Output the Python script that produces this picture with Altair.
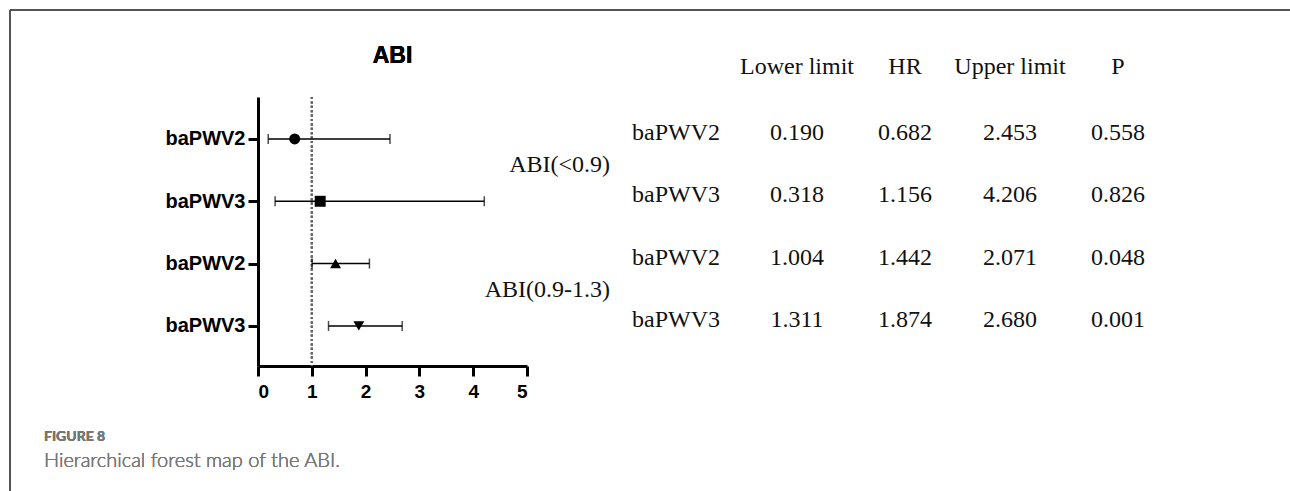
import altair as alt
import pandas as pd

# ---- data ----
row_labels = ["baPWV2", "baPWV3", "baPWV2", "baPWV3"]
groups = ["ABI(<0.9)", "ABI(0.9-1.3)"]
lower = [0.190, 0.318, 1.004, 1.311]
hr = [0.682, 1.156, 1.442, 1.874]
upper = [2.453, 4.206, 2.071, 2.680]
pvals = [0.558, 0.826, 0.048, 0.001]
shapes = ["circle", "square", "triangle-up", "triangle-down"]
headers = ["Lower limit", "HR", "Upper limit", "P"]
xticks = [0, 1, 2, 3, 4, 5]
title_text = "ABI"

forest = pd.DataFrame({
    "row": list(range(4)),
    "label": row_labels,
    "lower": lower,
    "hr": hr,
    "upper": upper,
    "shape": [str(i) for i in range(4)],
})

# table cells: col index 0=group,1=name,2=lower,3=HR,4=upper,5=P
cells = []
for i in range(4):
    cells.append({"row": i, "col": 1, "txt": row_labels[i]})
    cells.append({"row": i, "col": 2, "txt": f"{lower[i]:.3f}"})
    cells.append({"row": i, "col": 3, "txt": f"{hr[i]:.3f}"})
    cells.append({"row": i, "col": 4, "txt": f"{upper[i]:.3f}"})
    cells.append({"row": i, "col": 5, "txt": f"{pvals[i]:.3f}"})
table = pd.DataFrame(cells)
head_df = pd.DataFrame({"row": [-1] * 4, "col": [2, 3, 4, 5], "txt": headers})
grp_df = pd.DataFrame({"row": [0.5, 2.5], "col": [0, 0], "txt": groups})

yscale = alt.Scale(domain=[-0.674, 3.644], reverse=True, nice=False, zero=False)
xscale = alt.Scale(domain=[0, 5], nice=False, zero=True)
labexpr = "[" + ",".join(f"'{l}'" for l in row_labels) + "][datum.value]"

base = alt.Chart(forest)

ref = alt.Chart(forest).mark_rule(color="#666", strokeWidth=2, strokeDash=[2, 2.4]).encode(
    x=alt.datum(1, scale=xscale)
)

err = base.mark_rule(color="black", strokeWidth=1.5).encode(
    x=alt.X("lower:Q", scale=xscale,
            axis=alt.Axis(values=xticks, format="d", title=None, labelFontSize=19,
                          labelPadding=6)),
    x2="upper:Q",
    y=alt.Y("row:Q", scale=yscale,
            axis=alt.Axis(values=[0, 1, 2, 3], labelExpr=labexpr, title=None,
                          labelFontSize=20, labelPadding=3)),
)
capl = base.mark_tick(orient="vertical", color="black", size=10, thickness=1.5).encode(
    x=alt.X("lower:Q", scale=xscale), y=alt.Y("row:Q", scale=yscale)
)
capu = base.mark_tick(orient="vertical", color="black", size=10, thickness=1.5).encode(
    x=alt.X("upper:Q", scale=xscale), y=alt.Y("row:Q", scale=yscale)
)
pts = base.mark_point(filled=True, opacity=1, color="black", size=120).encode(
    x=alt.X("hr:Q", scale=xscale),
    y=alt.Y("row:Q", scale=yscale),
    shape=alt.Shape("shape:N", scale=alt.Scale(domain=["0", "1", "2", "3"], range=shapes), legend=None),
)

forest_layer = alt.layer(ref, err, capl, capu, pts)

tscale = alt.Scale(domain=[0, 1, 2, 3, 4, 5], range=[352, 418, 539, 647, 752, 860], nice=False, zero=False)
tab = alt.Chart(table).mark_text(font="Liberation Serif", fontSize=24, color="#111", dy=-6).encode(
    x=alt.X("col:Q", scale=tscale, axis=None),
    y=alt.Y("row:Q", scale=yscale),
    text="txt:N",
)
head = alt.Chart(head_df).mark_text(font="Liberation Serif", fontSize=24, color="#111", dy=-10).encode(
    x=alt.X("col:Q", scale=tscale, axis=None),
    y=alt.Y("row:Q", scale=yscale),
    text="txt:N",
)
grp = alt.Chart(grp_df).mark_text(font="Liberation Serif", fontSize=24, color="#111", dy=-5,
                                  align="right").encode(
    x=alt.X("col:Q", scale=tscale, axis=None),
    y=alt.Y("row:Q", scale=yscale),
    text="txt:N",
)
table_layer = alt.layer(tab, head, grp)

title_mark = alt.Chart(forest).mark_text(
    text=title_text, font="Liberation Sans", fontSize=23, fontWeight="bold", color="black",
    align="center", baseline="alphabetic"
).encode(x=alt.value(134.5), y=alt.value(-34))

frame_top = alt.Chart(forest).mark_rule(color="#555", strokeWidth=1.5).encode(
    x=alt.value(-248), x2=alt.value(1040), y=alt.value(-87)
)
frame_left = alt.Chart(forest).mark_rule(color="#555", strokeWidth=1.5).encode(
    x=alt.value(-248), y=alt.value(-87), y2=alt.value(400)
)
cap1 = alt.Chart(forest).mark_text(
    text="FIGURE 8", font="Lato", fontSize=14, fontWeight="bold", color="#777", align="left"
).encode(x=alt.value(-214), y=alt.value(340))
cap2 = alt.Chart(forest).mark_text(
    text="Hierarchical forest map of the ABI.", font="Lato", fontSize=20, fontWeight=300,
    color="#777", align="left"
).encode(x=alt.value(-214), y=alt.value(364))

chart = alt.layer(forest_layer, table_layer, title_mark, frame_top, frame_left, cap1, cap2).resolve_scale(
    x="independent"
).properties(
    width=269,
    height=269,
    autosize=alt.AutoSizeParams(type="none"),
    padding={"left": 258, "top": 97, "right": 763, "bottom": 125},
    background="white",
).configure_view(stroke=None).configure_axis(
    domainColor="black", domainWidth=3, tickColor="black", tickWidth=3, tickSize=10,
    grid=False, labelFont="Liberation Sans", labelFontWeight="bold", labelColor="black",
)

chart.save("out.html", embed_options={"renderer": "svg", "actions": False})
